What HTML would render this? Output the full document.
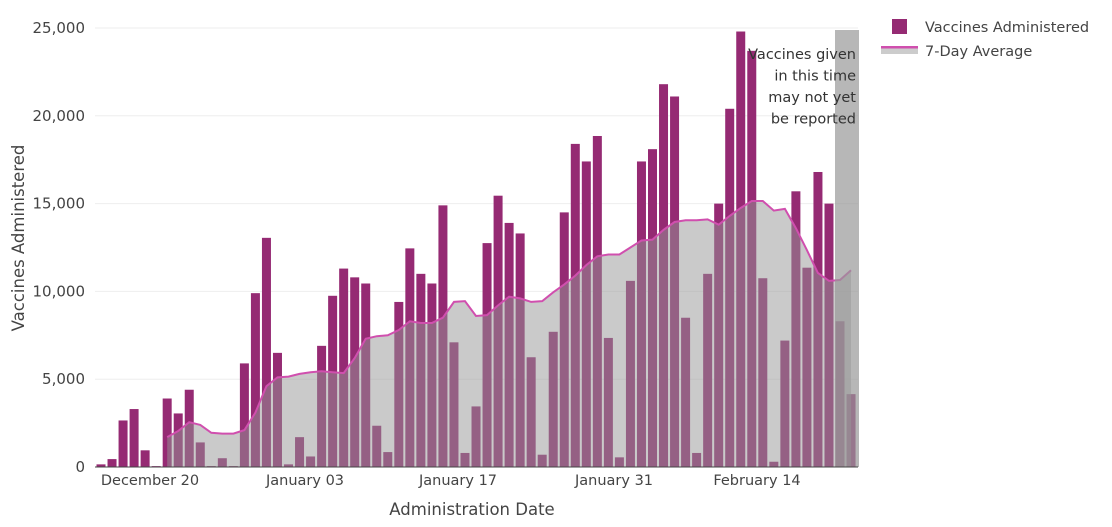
<!DOCTYPE html>
<html><head><meta charset="utf-8"><style>
html,body{margin:0;padding:0;background:#fff;}
svg{display:block;font-family:"DejaVu Sans","Liberation Sans",sans-serif;}
</style></head><body>
<svg id="c" width="1112" height="527" xmlns="http://www.w3.org/2000/svg"></svg>
<script>
var vals=[150,450,2650,3300,950,50,3900,3050,4400,1400,50,500,50,5900,9900,13050,6500,150,1700,600,6900,9750,11300,10800,10450,2350,850,9400,12450,11000,10450,14900,7100,800,3450,12750,15450,13900,13300,6250,700,7700,14500,18400,17400,18850,7350,550,10600,17400,18100,21800,21100,8500,800,11000,15000,20400,24800,23700,10750,300,7200,15700,11350,16800,15000,8300,4150];
var avg={6:1700,7:2050,8:2550,9:2400,10:1950,11:1900,12:1900,13:2100,14:3100,15:4600,16:5100,17:5150,18:5300,19:5400,20:5450,21:5400,22:5350,23:6200,24:7300,25:7450,26:7500,27:7800,28:8300,29:8200,30:8200,31:8500,32:9400,33:9450,34:8600,35:8650,36:9200,37:9700,38:9600,39:9400,40:9450,41:9950,42:10400,43:10900,44:11500,45:12000,46:12100,47:12100,48:12500,49:12900,50:12950,51:13500,52:13950,53:14050,54:14050,55:14100,56:13800,57:14300,58:14750,59:15150,60:15150,61:14600,62:14700,63:13600,64:12350,65:11050,66:10600,67:10650,68:11200};
function Y(v){return 467-v*439/25000;}
function X(i){return 101+i*11.03;}
var s='';
for(var k=0;k<=5;k++){var y=Y(k*5000);s+='<line x1="95" x2="858" y1="'+y+'" y2="'+y+'" stroke="#eee" stroke-width="1"/>';
s+='<text x="85" y="'+(y+5)+'" font-size="15" fill="#444" text-anchor="end">'+(k==0?'0':(k*5)+',000')+'</text>';}
for(var i=0;i<vals.length;i++){s+='<rect x="'+(X(i)-4.5)+'" y="'+Y(vals[i])+'" width="9" height="'+(vals[i]*439/25000)+'" fill="#952a73"/>';}
var pts=[];for(var i=6;i<=68;i++)pts.push(X(i).toFixed(1)+','+Y(avg[i]).toFixed(1));
s+='<polygon points="'+X(6)+',467 '+pts.join(' ')+' '+X(68)+',467" fill="rgb(150,150,150)" fill-opacity="0.5"/>';
s+='<polyline points="'+pts.join(' ')+'" fill="none" stroke="#d04fae" stroke-width="2"/>';
s+='<rect x="835" y="30" width="24" height="437" fill="#999" fill-opacity="0.7"/>';
s+='<line x1="95" x2="858" y1="467" y2="467" stroke="#444" stroke-width="1"/>';
var lines=['Vaccines given','in this time','may not yet','be reported'];
for(var j=0;j<4;j++)s+='<text x="856" y="'+(59+j*21.5)+'" font-size="14.5" fill="#333" text-anchor="end">'+lines[j]+'</text>';
var xl=[['December 20',150],['January 03',305],['January 17',458],['January 31',614],['February 14',757]];
xl.forEach(function(a){s+='<text x="'+a[1]+'" y="485" font-size="14.5" fill="#444" text-anchor="middle">'+a[0]+'</text>';});
s+='<text x="472" y="515" font-size="16.5" fill="#444" text-anchor="middle">Administration Date</text>';
s+='<text transform="translate(24,238) rotate(-90)" font-size="16.5" fill="#444" text-anchor="middle">Vaccines Administered</text>';
s+='<rect x="892" y="19" width="15" height="15" fill="#952a73"/>';
s+='<text x="925" y="32" font-size="14.5" fill="#444">Vaccines Administered</text>';
s+='<rect x="881" y="48" width="37" height="6" fill="#ccc"/><rect x="881" y="46" width="37" height="2.5" fill="#d04fae"/>';
s+='<text x="925" y="56" font-size="14.5" fill="#444">7-Day Average</text>';
document.getElementById('c').innerHTML=s;
</script>
</body></html>
